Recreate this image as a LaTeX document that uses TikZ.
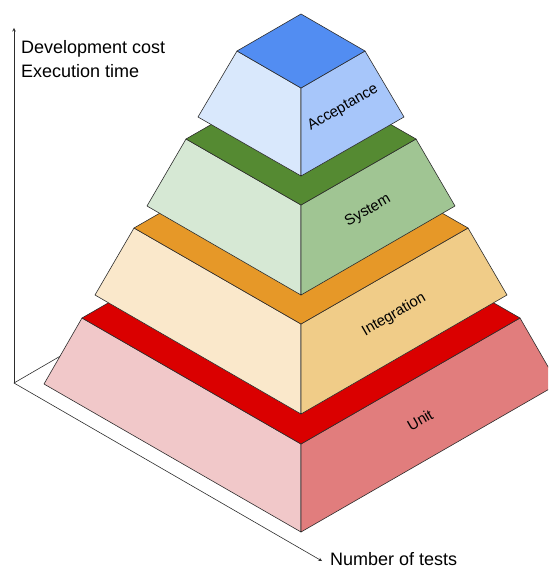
\documentclass[tikz,border=0pt]{standalone}
\usepackage{fontspec}
\setmainfont{Liberation Sans}
\definecolor{edge}{RGB}{45,45,45}
\definecolor{unitT}{RGB}{218,0,0}
\definecolor{unitL}{RGB}{241,200,201}
\definecolor{unitR}{RGB}{225,125,125}
\definecolor{integT}{RGB}{230,152,40}
\definecolor{integL}{RGB}{250,232,203}
\definecolor{integR}{RGB}{240,204,136}
\definecolor{sysT}{RGB}{85,138,50}
\definecolor{sysL}{RGB}{214,232,212}
\definecolor{sysR}{RGB}{160,197,147}
\definecolor{accT}{RGB}{82,141,242}
\definecolor{accL}{RGB}{217,232,252}
\definecolor{accR}{RGB}{167,198,250}
\begin{document}
\begin{tikzpicture}[x=1pt,y=-1pt,>=stealth, line join=round, line cap=round,
  face/.style={draw=edge, line width=0.6pt},
  axis/.style={draw=edge, line width=0.6pt},
  layername/.style={inner sep=0pt, rotate=30, font=\fontsize{15}{18}\selectfont},
  axisname/.style={inner sep=0pt, font=\fontsize{18}{24}\selectfont}]
  \useasboundingbox (0,0) rectangle (548,569);
  \clip (0,0) rectangle (548,569);
  % axes
  \coordinate (origin) at (14,383);
  \coordinate (costTip) at (14,28);
  \coordinate (testsTip) at (322,561);
  \coordinate (depthEnd) at (150,304);
  \draw[axis,->] (origin) -- (costTip);
  \draw[axis,->] (origin) -- (testsTip);
  \draw[axis] (origin) -- (depthEnd);
  \node[axisname, anchor=north west, align=left] (cost) at (21,40) {Development cost\\Execution time};
  \node[axisname, anchor=base west] (tests) at (330,565) {Number of tests};
  % unit
  \filldraw[face, fill=unitL] (44,384) -- (301,532) -- (301,444) -- (82,318) -- cycle;
  \filldraw[face, fill=unitR] (301,532) -- (558,384) -- (520,318) -- (301,444) -- cycle;
  \filldraw[face, fill=unitT] (82,318) -- (301,444) -- (520,318) -- (301,192) -- cycle;
  \node[layername] (unit) at (420,420) {Unit};
  % integration
  \filldraw[face, fill=integL] (95,295) -- (301,414) -- (301,324) -- (134,228) -- cycle;
  \filldraw[face, fill=integR] (301,414) -- (507,295) -- (468,228) -- (301,324) -- cycle;
  \filldraw[face, fill=integT] (134,228) -- (301,324) -- (468,228) -- (301,132) -- cycle;
  \node[layername] (integration) at (394,315) {Integration};
  % system
  \filldraw[face, fill=sysL] (147,206) -- (301,295) -- (301,205) -- (186,139) -- cycle;
  \filldraw[face, fill=sysR] (301,295) -- (455,206) -- (416,139) -- (301,205) -- cycle;
  \filldraw[face, fill=sysT] (186,139) -- (301,205) -- (416,139) -- (301,73) -- cycle;
  \node[layername] (system) at (368,211) {System};
  % acceptance
  \filldraw[face, fill=accL] (198,117) -- (301,176) -- (301,88) -- (237,51) -- cycle;
  \filldraw[face, fill=accR] (301,176) -- (404,117) -- (365,51) -- (301,88) -- cycle;
  \filldraw[face, fill=accT] (237,51) -- (301,88) -- (365,51) -- (301,14) -- cycle;
  \node[layername] (acceptance) at (343,108) {Acceptance};
\end{tikzpicture}
\end{document}
